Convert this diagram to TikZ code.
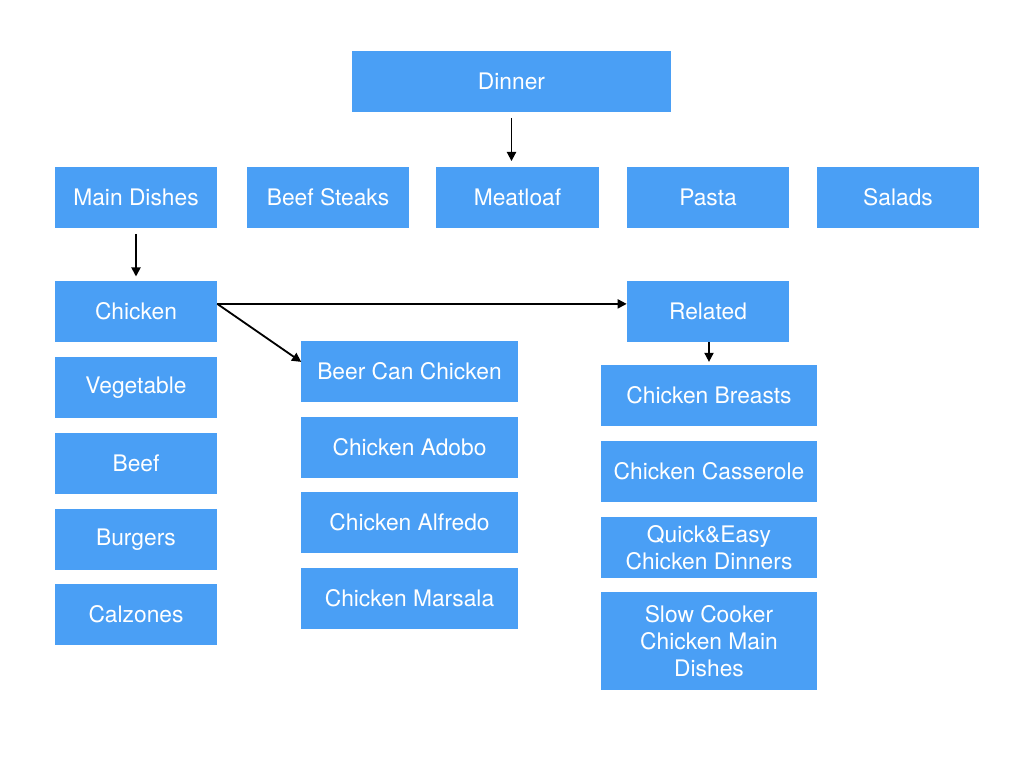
\documentclass[tikz,border=0pt]{standalone}
\usepackage{fontspec}
\setmainfont{TeX Gyre Heros}
\usetikzlibrary{arrows.meta}
\definecolor{boxblue}{RGB}{74,159,245}

\begin{document}
\begin{tikzpicture}[x=0.025cm,y=-0.025cm,
    box/.style={fill=boxblue,text=white,inner sep=0pt,align=center,
      minimum width=4.05cm,minimum height=1.525cm,
      font=\fontsize{16.2}{19.2}\selectfont},
    wide/.style={box,minimum width=5.4cm},
    link/.style={-{Triangle[length=6.5pt,width=6.5pt]},line width=1.3pt}]
    % page size
    \useasboundingbox (0,0) rectangle (1024,768);

    % top level
    \node[box,minimum width=7.975cm] (dinner) at (511.5,81.5) {Dinner};

    % categories
    \node[box] (maindishes) at (136,197.5) {Main Dishes};
    \node[box] (beefsteaks) at (328,197.5) {Beef Steaks};
    \node[box] (meatloaf) at (517.5,197.5) {Meatloaf};
    \node[box] (pasta) at (708,197.5) {Pasta};
    \node[box] (salads) at (898,197.5) {Salads};

    % main dishes column
    \node[box] (chicken) at (136,311.5) {Chicken};
    \node[box] (vegetable) at (136,387.5) {Vegetable};
    \node[box] (beef) at (136,463.5) {Beef};
    \node[box] (burgers) at (136,539.5) {Burgers};
    \node[box] (calzones) at (136,614.5) {Calzones};

    % chicken recipes
    \node[wide] (beercan) at (409.5,371.5) {Beer Can Chicken};
    \node[wide] (adobo) at (409.5,447.5) {Chicken Adobo};
    \node[wide] (alfredo) at (409.5,522.5) {Chicken Alfredo};
    \node[wide] (marsala) at (409.5,598.5) {Chicken Marsala};

    % related column
    \node[box] (related) at (708,311.5) {Related};
    \node[wide] (breasts) at (709,395.5) {Chicken Breasts};
    \node[wide] (casserole) at (709,471.5) {Chicken Casserole};
    \node[wide] (quickeasy) at (709,547.5) {Quick\&Easy\\Chicken Dinners};
    \node[wide,minimum height=2.45cm] (slowcooker) at (709,641) {Slow Cooker\\Chicken Main\\Dishes};

    % arrows
    \draw[link,shorten <=4,shorten >=4] (dinner.south) -- (meatloaf.north -| dinner.south);
    \draw[link,shorten <=4,shorten >=3] (maindishes.south) -- (chicken.north);
    \draw[link] ([yshift=0.19cm]chicken.east) -- ([yshift=0.19cm]related.west);
    \draw[link] ([yshift=0.19cm]chicken.east) -- ([yshift=0.24cm]beercan.west);
    \draw[link,shorten >=2] (related.south -| breasts.north) -- (breasts.north);
\end{tikzpicture}
\end{document}
